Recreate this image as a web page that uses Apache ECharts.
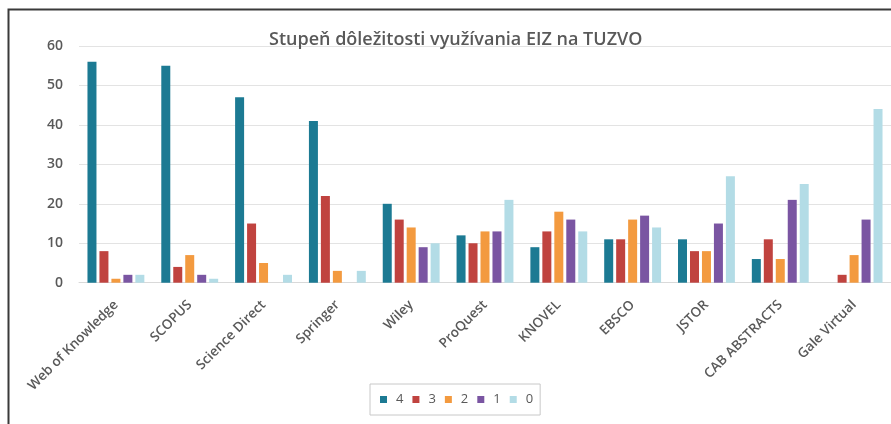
<!DOCTYPE html>
<html>
<head>
<meta charset="utf-8">
<script src="https://cdn.jsdelivr.net/npm/echarts@6/dist/echarts.min.js"></script>
<style>
  html, body { margin: 0; padding: 0; background: #fff; }
  #chart { width: 891px; height: 424px; }
</style>
</head>
<body>
<div id="chart"></div>
<script>
// kategorie (databázy EIZ)
const categories = ["Web of Knowledge", "SCOPUS", "Science Direct", "Springer", "Wiley",
  "ProQuest", "KNOVEL", "EBSCO", "JSTOR", "CAB ABSTRACTS", "Gale Virtual"];

// stupeň dôležitosti 4 .. 0
const level4 = [56, 55, 47, 41, 20, 12, 9, 11, 11, 6, 0];
const level3 = [8, 4, 15, 22, 16, 10, 13, 11, 8, 11, 2];
const level2 = [1, 7, 5, 3, 14, 13, 18, 16, 8, 6, 7];
const level1 = [2, 2, 0, 0, 9, 13, 16, 17, 15, 21, 16];
const level0 = [2, 1, 2, 3, 10, 21, 13, 14, 27, 25, 44];

const seriesNames = ["4", "3", "2", "1", "0"];
const yTicks = [0, 10, 20, 30, 40, 50, 60];

const colors = ["#1c7a93", "#c0433f", "#f39a3f", "#7a55a2", "#b3dce6"];
const font = "'Open Sans', 'Noto Sans', sans-serif";
const textColor = "#595959";

const chart = echarts.init(document.getElementById("chart"));

const makeBar = (name, data, i) => ({
  name: name,
  type: "bar",
  data: data,
  barWidth: 9,
  barGap: "33%",
  itemStyle: { color: colors[i] },
});

const option = {
  backgroundColor: "#fff",
  animation: false,
  title: {
    text: "Stupeň dôležitosti využívania EIZ na TUZVO",
    left: 264,
    top: 26,
    textStyle: {
      fontFamily: font,
      fontSize: 18,
      fontWeight: 600,
      color: textColor,
    },
  },
  legend: {
    data: seriesNames,
    left: 370,
    top: 384,
    itemWidth: 7,
    itemHeight: 7,
    itemGap: 9,
    icon: "rect",
    padding: [9, 7, 9, 10],
    borderColor: "#c8c8c8",
    borderWidth: 1,
    textStyle: {
      fontFamily: font,
      fontSize: 13,
      color: textColor,
      padding: [0, 0, 0, 4],
    },
  },
  grid: {
    left: 79,
    top: 46,
    width: 824,
    height: 236.7,
    containLabel: false,
  },
  xAxis: {
    type: "category",
    data: categories,
    axisLine: { lineStyle: { color: "#d9d9d9" } },
    axisTick: { show: false },
    axisLabel: {
      rotate: 45,
      interval: 0,
      margin: 20,
      fontFamily: font,
      fontSize: 13.5,
      fontWeight: 600,
      color: textColor,
    },
  },
  yAxis: {
    type: "value",
    min: yTicks[0],
    max: yTicks[yTicks.length - 1],
    interval: 10,
    axisLine: { show: false },
    axisTick: { show: false },
    splitLine: { lineStyle: { color: "#e3e3e3" } },
    axisLabel: {
      margin: 16,
      fontFamily: font,
      fontSize: 14,
      fontWeight: 600,
      color: textColor,
    },
  },
  graphic: [
    {
      type: "rect",
      shape: { x: 8.5, y: 9.5, width: 1000, height: 1000 },
      style: { fill: null, stroke: "#3a3a3a", lineWidth: 2 },
      silent: true,
    },
  ],
  series: [
    makeBar(seriesNames[0], level4, 0),
    makeBar(seriesNames[1], level3, 1),
    makeBar(seriesNames[2], level2, 2),
    makeBar(seriesNames[3], level1, 3),
    makeBar(seriesNames[4], level0, 4),
  ],
};

chart.setOption(option);
</script>
</body>
</html>
